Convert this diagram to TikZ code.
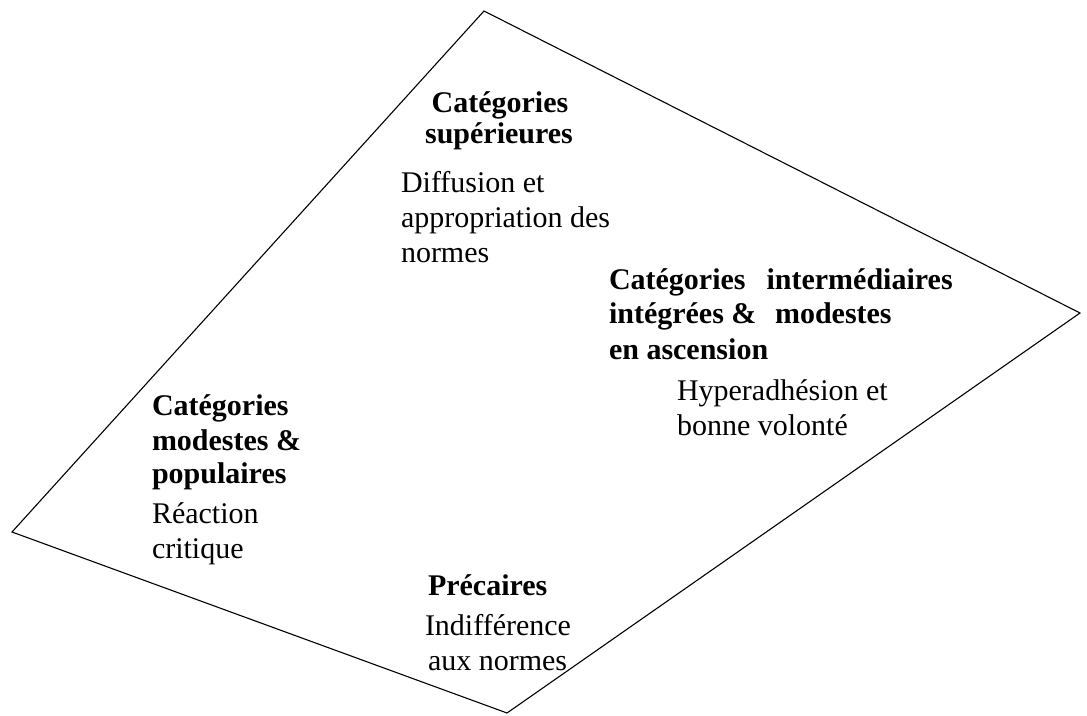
\documentclass[tikz,border=0pt]{standalone}
\usepackage{fontspec}
\setmainfont{Liberation Serif}
\begin{document}
\begin{tikzpicture}[x=1pt,y=-1pt,
  txt/.style={inner sep=0pt,outer sep=0pt,anchor=base west,font=\fontsize{30}{35}\selectfont},
  head/.style={txt,font=\fontsize{30}{35}\selectfont\bfseries},
  edge/.style={draw=black,line width=1.1pt,line join=miter}]
\useasboundingbox (0,0) rectangle (1087,715);
\coordinate (T) at (484,11);
\coordinate (R) at (1080,313);
\coordinate (B) at (507,713);
\coordinate (L) at (12,532);
\draw[edge] (T) -- (R) -- (B) -- (L) -- cycle;
% superieures
\node[head,anchor=base] (s1) at (500,112) {Catégories};
\node[head,anchor=base] (s2) at (499,143) {supérieures};
\node[txt] (s3) at (401,192) {Diffusion et};
\node[txt] (s4) at (401,227) {appropriation des};
\node[txt] (s5) at (401,262) {normes};
% intermediaires
\node[head] (i1) at (609,289) {Catégories\hspace{0.7em}intermédiaires};
\node[head] (i2) at (609,323) {intégrées \&\hspace{0.62em}modestes};
\node[head] (i3) at (609,359) {en ascension};
\node[txt] (i4) at (677,400) {Hyperadhésion et};
\node[txt] (i5) at (677,435) {bonne volonté};
% modestes
\node[head] (m1) at (152,415) {Catégories};
\node[head] (m2) at (152,450) {modestes \&};
\node[head] (m3) at (152,483) {populaires};
\node[txt] (m4) at (152,523) {Réaction};
\node[txt] (m5) at (152,558) {critique};
% precaires
\node[head] (p1) at (428,595) {Précaires};
\node[txt] (p2) at (425,635) {Indifférence};
\node[txt] (p3) at (428,670) {aux normes};
\end{tikzpicture}
\end{document}
